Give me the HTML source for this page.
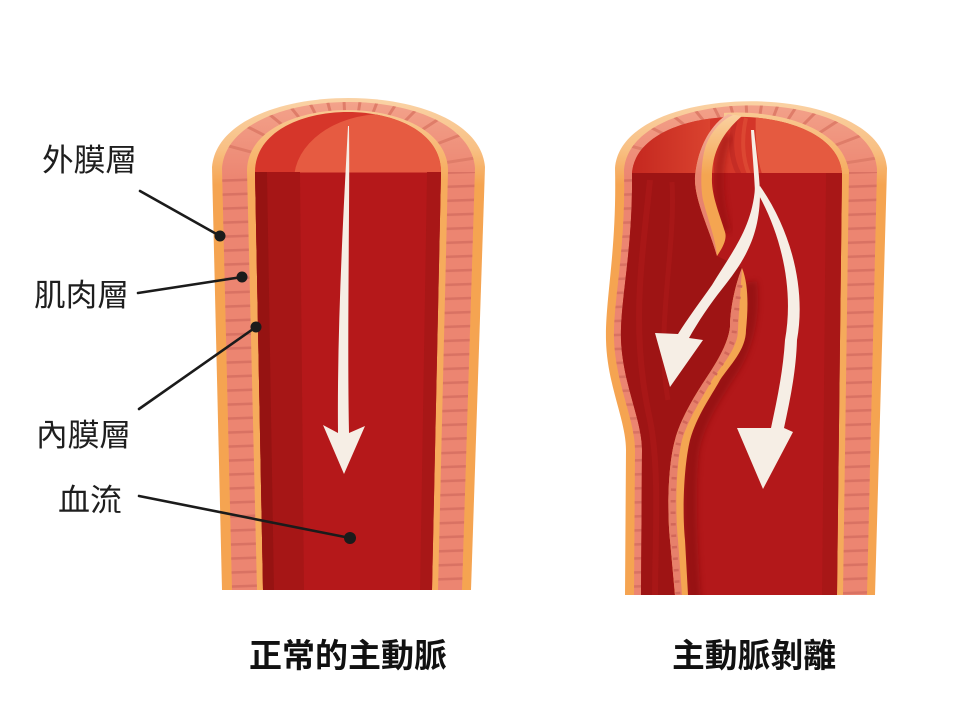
<!DOCTYPE html>
<html>
<head>
<meta charset="utf-8">
<style>
html,body{margin:0;padding:0;background:#fff;}
svg{display:block;}
text{font-family:"Liberation Sans","Noto Sans CJK TC","Noto Sans CJK SC",sans-serif;}
</style>
</head>
<body>
<svg width="960" height="720" viewBox="0 0 960 720" xmlns="http://www.w3.org/2000/svg">
<defs>
  <linearGradient id="og" x1="0" y1="95" x2="0" y2="185" gradientUnits="userSpaceOnUse">
    <stop offset="0" stop-color="#fad4a8"/>
    <stop offset="0.6" stop-color="#f8c084"/>
    <stop offset="1" stop-color="#f5a451"/>
  </linearGradient>
  <linearGradient id="pg" x1="0" y1="100" x2="0" y2="180" gradientUnits="userSpaceOnUse">
    <stop offset="0" stop-color="#f3a38b"/>
    <stop offset="1" stop-color="#ec8571"/>
  </linearGradient>
  <linearGradient id="yg" x1="0" y1="105" x2="0" y2="180" gradientUnits="userSpaceOnUse">
    <stop offset="0" stop-color="#f9cc98"/>
    <stop offset="1" stop-color="#f6ab5c"/>
  </linearGradient>
  <linearGradient id="fg" x1="0" y1="112" x2="0" y2="175" gradientUnits="userSpaceOnUse">
    <stop offset="0" stop-color="#fad3a4"/>
    <stop offset="1" stop-color="#f4a551"/>
  </linearGradient>
  <linearGradient id="fpg" x1="0" y1="112" x2="0" y2="175" gradientUnits="userSpaceOnUse">
    <stop offset="0" stop-color="#f5b8a0"/>
    <stop offset="1" stop-color="#e8836e"/>
  </linearGradient>
  <linearGradient id="fdg" x1="630" y1="0" x2="710" y2="0" gradientUnits="userSpaceOnUse">
    <stop offset="0" stop-color="#c4271f"/>
    <stop offset="1" stop-color="#da432f"/>
  </linearGradient>
  <pattern id="hs" width="40" height="14" patternUnits="userSpaceOnUse" patternTransform="rotate(-2)">
    <rect x="0" y="5" width="40" height="2.6" fill="#d97263"/>
  </pattern>
  <clipPath id="pinkL"><path d="M222,168 C229,80 468,80 475,168 L462,590 L232,590 Z"/></clipPath>
  <clipPath id="lumL"><path d="M255,172 C255,92 441,92 441,172 L432,590 L263,590 Z"/></clipPath>
  <clipPath id="pinkR"><path d="M624,170 C630,84 871,84 877,169 L867,595 L634,595 L635,450 C635,420 616,385 614,340 C613,300 626,250 624,170 Z"/></clipPath>
  <clipPath id="lumR"><path d="M632,173 C638,98 836,98 842,173 L837,595 L641,595 L642,450 C642,420 623,385 621,340 C620,300 633,250 632,173 Z"/></clipPath>
  <clipPath id="xr"><rect x="724" y="80" width="200" height="100"/></clipPath>
  <filter id="bl" x="-50%" y="-50%" width="200%" height="200%"><feGaussianBlur stdDeviation="3"/></filter>
</defs>

<rect width="960" height="720" fill="#ffffff"/>

<!-- ============ LEFT VESSEL ============ -->
<path d="M212,167 C220,75 477,75 485,167 L471,590 L222,590 Z" fill="url(#og)"/>
<path d="M222,168 C229,80 468,80 475,168 L462,590 L232,590 Z" fill="url(#pg)"/>
<g clip-path="url(#pinkL)">
  <rect x="200" y="172" width="300" height="420" fill="url(#hs)"/>
  <path d="M348,178 L183.8,134 M348,178 L196.5,100.8 M348,178 L215.9,71.1 M348,178 L241.1,45.9 M348,178 L270.8,26.5 M348,178 L304,13.8 M348,178 L339.2,8.2 M348,178 L374.5,10 M348,178 L408.9,19.2 M348,178 L440.7,35.4 M348,178 L468.2,57.8 M348,178 L490.6,85.3 M348,178 L506.8,117.1 M348,178 L516,151.5" stroke="#df7d69" stroke-width="3" fill="none"/>
</g>
<path d="M247,170 C249,90 446,90 448,170 L438,590 L257,590 Z" fill="url(#yg)"/>
<g clip-path="url(#lumL)">
  <rect x="240" y="80" width="220" height="93" fill="#d6362a"/>
  <ellipse cx="384" cy="180" rx="90" ry="66" fill="#e65b41"/>
  <rect x="240" y="172.5" width="220" height="420" fill="#b5181a"/>
  <path d="M250,172 L300,172 L304,592 L250,592 Z" fill="#a61616"/>
  <path d="M250,172 L267,172 L274,592 L250,592 Z" fill="#961312"/>
  <path d="M427,172 L450,172 L450,592 L420,592 Z" fill="#a81717"/>
</g>
<!-- left arrow -->
<path d="M349,126 C350,200 347,330 349,433 L365,426 L344,474 L323,425 L338,433 C337,330 343,220 348,126 Z" fill="#f6eee5"/>

<!-- ============ RIGHT VESSEL ============ -->
<path d="M615,168 C622,79 880,79 887,168 L875,595 L625,595 L626,450 C626,420 607,385 606,340 C605,300 617,250 615,168 Z" fill="url(#og)"/>
<path d="M624,170 C630,84 871,84 877,169 L867,595 L634,595 L635,450 C635,420 616,385 614,340 C613,300 626,250 624,170 Z" fill="url(#pg)"/>
<g clip-path="url(#pinkR)">
  <rect x="590" y="172" width="320" height="430" fill="url(#hs)"/>
  <g transform="translate(402,0)">
  <path d="M348,178 L183.8,134 M348,178 L196.5,100.8 M348,178 L215.9,71.1 M348,178 L241.1,45.9 M348,178 L270.8,26.5 M348,178 L304,13.8 M348,178 L339.2,8.2 M348,178 L374.5,10 M348,178 L408.9,19.2 M348,178 L440.7,35.4 M348,178 L468.2,57.8 M348,178 L490.6,85.3 M348,178 L506.8,117.1 M348,178 L516,151.5" stroke="#df7d69" stroke-width="3" fill="none"/>
  </g>
</g>
<path d="M841,172 L849,169 L843,595 L836,595 Z" fill="#f5aa5b"/>
<g clip-path="url(#xr)">
  <path d="M626,174 C631,92 843,92 849,174 Z" fill="url(#yg)"/>
</g>
<g clip-path="url(#lumR)">
  <rect x="600" y="85" width="260" height="89" fill="#d43629"/>
  <rect x="600" y="85" width="110" height="89" fill="url(#fdg)"/>
  <path d="M757,100 C754,130 756,155 762,174 L860,174 L860,100 Z" fill="#e55a40"/>
  <path d="M736,118 C729,140 731,160 739,174" stroke="#c52d25" stroke-width="5" fill="none"/>
  <path d="M746,118 C741,140 743,160 749,174" stroke="#dc4732" stroke-width="4" fill="none"/>
  <rect x="600" y="173" width="260" height="430" fill="#b3181a"/>
  <path d="M826,173 L845,173 L845,600 L822,600 Z" fill="#a81717"/>
  <path d="M600,173 L697,173 L695,177 C694,200 710,230 717,256 L742,268 C735,285 730,310 730,327 C728,345 715,365 705,380 C695,395 680,420 675,440 C668,465 667,510 670,540 L675,600 L600,600 Z" fill="#9e1414"/>
  <path d="M650,180 C642,260 630,330 650,420 C660,470 655,540 655,600" stroke="#ac1818" stroke-width="6" fill="none" opacity="0.7"/>
  <path d="M672,182 C676,250 655,330 668,400" stroke="#ad1919" stroke-width="5" fill="none" opacity="0.6"/>
  <path d="M750,282 C754,312 747,347 730,372 C714,397 697,422 692,452 C688,492 690,542 694,600" stroke="#7e0d0d" stroke-width="14" fill="none" opacity="0.5" filter="url(#bl)"/>
  <path d="M728,135 C716,160 716,195 727,232" stroke="#8a0f0f" stroke-width="10" fill="none" opacity="0.45" filter="url(#bl)"/>
</g>

<!-- upper flap -->
<path d="M728,114 C712,124 698,145 695,177 C694,200 710,230 717,256 C724,246 727,238 725,232 C720,215 711,195 712,177 C712,155 720,135 742,116 Z" fill="url(#fg)"/>
<path d="M728,114 C712,124 698,145 695,177 C694,200 710,230 717,256 C716,240 708,220 703,200 C700,185 701,160 706,145 C712,130 722,120 733,115 Z" fill="url(#fpg)"/>
<!-- lower flap -->
<path d="M742,268 C735,285 730,310 730,327 C728,345 715,365 705,380 C695,395 680,420 675,440 C668,465 667,510 670,540 L675,595 L688,595 L685,540 C682,510 684,465 690,440 C697,415 712,395 720,380 C730,365 746,350 746,330 C748,310 749,285 742,268 Z" fill="#f4a551"/>
<path d="M742,268 C735,285 730,310 730,327 C728,345 715,365 705,380 C695,395 680,420 675,440 C668,465 667,510 670,540 L675,595 L682,595 L678,540 C675,510 676,465 682,440 C689,417 703,397 712,380 C722,365 738,348 738,330 C739,310 741,285 742,268 Z" fill="#e7806b"/>
<path d="M740,285 C736,310 735,330 733,340 C725,360 712,378 702,392 C690,410 680,430 678,445 C673,470 672,510 674,540 L678,595" stroke="#d2685a" stroke-width="5" stroke-dasharray="2.5 9" fill="none"/>

<!-- right arrows -->
<g fill="#f6eee5">
  <path d="M751,130 L754,130 C756,150 759,170 760,192 L755,192 C754,170 752,150 751,130 Z"/>
  <path d="M755,188 C752,228 732,252 712,285 C700,302 688,318 678,334 L655,333 L670,387 L703,340 L689,338 C698,322 710,304 722,289 C745,260 761,235 760,188 Z"/>
  <path d="M756,190 C782,235 794,290 785,340 C783,372 777,400 771,428 L737,428 L763,489 L793,432 L784,428 C790,400 796,372 797,340 C806,290 792,232 760,186 Z"/>
</g>

<!-- leader lines -->
<g stroke="#1b1b1b" stroke-width="2.6" stroke-linecap="round">
  <line x1="140" y1="191" x2="220" y2="236"/>
  <line x1="138" y1="293" x2="242" y2="277"/>
  <line x1="139" y1="409" x2="256" y2="327"/>
  <line x1="139" y1="496" x2="350" y2="538"/>
</g>
<g fill="#1b1b1b">
  <circle cx="220" cy="236" r="5.5"/>
  <circle cx="242" cy="277" r="5.5"/>
  <circle cx="256" cy="327" r="5.5"/>
  <circle cx="350" cy="538" r="6"/>
</g>

<!-- labels -->
<g fill="#1e1e1e" font-size="31">
  <text x="42" y="171" textLength="95" lengthAdjust="spacingAndGlyphs">外膜層</text>
  <text x="34" y="306" textLength="95" lengthAdjust="spacingAndGlyphs">肌肉層</text>
  <text x="36" y="446" textLength="95" lengthAdjust="spacingAndGlyphs">內膜層</text>
  <text x="58" y="511" textLength="64" lengthAdjust="spacingAndGlyphs">血流</text>
</g>
<g fill="#111" font-size="33" font-weight="bold">
  <text x="249" y="667" textLength="198" lengthAdjust="spacingAndGlyphs">正常的主動脈</text>
  <text x="672" y="667" textLength="164" lengthAdjust="spacingAndGlyphs">主動脈剝離</text>
</g>
</svg>
</body>
</html>
